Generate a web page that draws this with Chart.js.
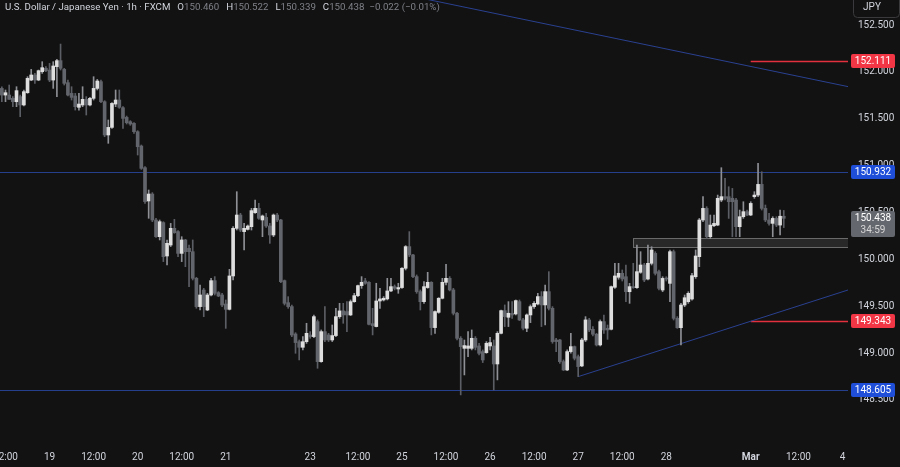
<!DOCTYPE html>
<html><head><meta charset="utf-8">
<script src="https://cdn.jsdelivr.net/npm/chart.js@4.4.1/dist/chart.umd.min.js"></script>
<style>html,body{margin:0;padding:0;background:#121212;overflow:hidden}canvas{display:block}</style>
</head><body><canvas id="c" width="900" height="467"></canvas>
<script>
// Hourly sessions shown (date, first hour, last hour) - weekend gaps skipped
const sessions = [
  ['2025-02-18', 11, 23], ['2025-02-19', 0, 23], ['2025-02-20', 0, 23], ['2025-02-21', 0, 21],
  ['2025-02-23', 22, 23], ['2025-02-24', 0, 23], ['2025-02-25', 0, 23], ['2025-02-26', 0, 23],
  ['2025-02-27', 0, 23], ['2025-02-28', 0, 21], ['2025-03-02', 22, 23], ['2025-03-03', 0, 23],
  ['2025-03-04', 0, 1]
];
const opens = [
151.824,151.753,151.753,151.718,151.682,151.736,151.647,151.778,151.913,151.967,
151.913,152.002,152.038,152.020,151.913,152.056,152.120,152.027,151.885,151.771,
151.743,151.622,151.647,151.707,151.647,151.718,151.824,151.896,151.682,151.327,
151.408,151.657,151.700,151.618,151.515,151.469,151.451,151.362,151.209,150.978,
150.623,150.697,150.420,150.242,150.392,150.036,150.153,150.331,150.296,150.064,
150.207,150.118,150.082,149.798,149.496,149.673,149.460,149.620,149.773,149.645,
149.620,149.524,149.467,149.823,150.331,150.473,150.296,150.320,150.349,150.498,
150.544,150.420,150.448,150.356,150.260,150.473,150.420,149.773,149.538,149.496,
149.204,149.122,149.062,149.122,149.193,149.176,149.336,148.909,149.229,149.194,
149.140,149.187,149.389,149.450,149.443,149.407,149.549,149.613,149.720,149.770,
149.755,149.314,149.283,149.556,149.567,149.578,149.663,149.709,149.684,149.699,
149.905,150.136,150.047,149.816,149.656,149.549,149.699,149.755,149.272,149.435,
149.585,149.755,149.798,149.674,149.425,149.158,149.051,149.051,149.051,149.158,
149.076,149.016,149.005,149.076,149.076,148.884,149.211,149.453,149.382,149.425,
149.418,149.549,149.354,149.265,149.407,149.496,149.524,149.603,149.514,149.656,
149.478,149.140,149.140,148.909,148.820,149.016,149.069,148.962,148.863,149.140,
149.354,149.254,149.201,149.087,149.336,149.265,149.254,149.702,149.809,149.851,
149.815,149.655,149.709,149.698,149.862,149.940,149.790,149.958,150.064,149.869,
149.673,149.797,149.744,150.082,149.371,149.271,149.513,149.549,149.577,149.815,
150.029,150.420,150.544,150.242,150.359,150.366,150.633,150.669,150.669,150.651,
150.633,150.349,150.455,150.509,150.473,150.669,150.686,150.800,150.544,150.420,
150.384,150.437,150.366,150.460];
const highs = [
151.842,151.807,151.860,151.736,151.842,151.753,151.807,151.949,152.027,151.984,
152.020,152.109,152.056,152.091,152.109,152.134,152.297,152.038,151.913,151.842,
151.771,151.771,151.842,151.736,151.728,151.949,151.920,151.913,151.693,151.487,
151.672,151.807,151.807,151.629,151.529,151.480,151.458,151.373,151.220,150.989,
150.740,150.712,150.438,150.420,150.402,150.207,150.384,150.427,150.306,150.242,
150.214,150.153,150.207,149.808,149.727,149.691,149.638,149.798,149.816,149.656,
149.638,149.567,149.894,150.349,150.722,150.491,150.384,150.367,150.544,150.633,
150.598,150.473,150.491,150.384,150.484,150.491,150.427,149.780,149.602,149.513,
149.218,149.140,149.176,149.318,149.229,149.407,149.354,149.247,149.496,149.211,
149.300,149.478,149.531,149.531,149.549,149.567,149.638,149.727,149.816,149.798,
149.762,149.478,149.745,149.691,149.603,149.798,149.798,149.727,149.745,149.912,
150.147,150.296,150.054,149.834,149.674,149.762,149.862,149.762,149.450,149.592,
149.798,149.947,149.816,149.691,149.435,149.176,149.140,149.229,149.247,149.176,
149.105,149.034,149.123,149.169,149.140,149.229,149.460,149.514,149.549,149.549,
149.567,149.567,149.371,149.418,149.514,149.549,149.638,149.656,149.727,149.869,
149.496,149.158,149.147,148.927,149.034,149.211,149.076,148.980,149.158,149.389,
149.371,149.283,149.211,149.354,149.407,149.300,149.716,149.958,149.958,149.887,
149.940,149.744,149.958,150.153,150.082,149.958,150.153,150.135,150.082,149.886,
149.815,149.815,150.100,150.100,149.389,149.531,149.620,149.655,149.851,150.100,
150.437,150.669,150.562,150.473,150.473,150.686,150.978,150.864,150.775,150.757,
150.651,150.526,150.615,150.526,150.615,150.722,151.024,150.935,150.580,150.491,
150.455,150.455,150.526,150.522];
const lows = [
151.682,151.682,151.707,151.629,151.629,151.522,151.636,151.771,151.906,151.878,
151.906,151.984,152.002,151.896,151.824,151.736,152.020,151.860,151.743,151.700,
151.593,151.593,151.629,151.540,151.636,151.700,151.807,151.672,151.309,151.238,
151.398,151.629,151.611,151.398,151.444,151.430,151.344,151.113,150.960,150.598,
150.438,150.402,150.235,150.207,149.976,149.940,150.136,150.278,150.029,149.976,
149.922,149.709,149.780,149.478,149.460,149.389,149.453,149.609,149.620,149.602,
149.496,149.264,149.460,149.780,150.313,150.296,150.100,150.313,150.313,150.491,
150.427,150.242,150.342,150.171,150.242,150.402,149.752,149.513,149.478,149.176,
148.998,148.927,149.033,149.104,149.158,149.165,148.838,148.902,149.123,149.123,
149.123,149.176,149.371,149.318,149.229,149.400,149.542,149.603,149.691,149.734,
149.300,149.194,149.279,149.478,149.556,149.567,149.656,149.674,149.638,149.691,
149.887,150.029,149.805,149.638,149.460,149.531,149.691,149.194,149.211,149.425,
149.578,149.727,149.663,149.407,149.140,148.554,148.767,148.962,149.034,149.034,
148.980,148.899,148.998,149.034,148.607,148.714,149.204,149.283,149.283,149.371,
149.407,149.347,149.247,149.229,149.325,149.478,149.514,149.283,149.300,149.460,
149.105,149.016,148.891,148.813,148.813,148.998,148.927,148.749,148.856,149.123,
149.229,149.183,149.076,149.076,149.211,149.147,149.247,149.691,149.788,149.769,
149.549,149.531,149.691,149.691,149.851,149.762,149.780,149.940,149.833,149.673,
149.655,149.769,149.549,149.353,149.264,149.086,149.495,149.531,149.566,149.797,
149.922,150.402,150.224,150.224,150.349,150.359,150.615,150.633,150.437,150.242,
150.242,150.242,150.437,150.466,150.466,150.651,150.669,150.526,150.402,150.366,
150.242,150.349,150.260,150.339];
const closes = [
151.753,151.778,151.707,151.682,151.800,151.647,151.789,151.931,151.967,151.913,
152.013,152.045,152.013,151.913,152.063,152.120,152.038,151.878,151.753,151.728,
151.629,151.657,151.707,151.647,151.718,151.824,151.903,151.682,151.327,151.408,
151.664,151.700,151.622,151.504,151.458,151.444,151.362,151.202,150.971,150.616,
150.697,150.420,150.242,150.402,150.029,150.171,150.331,150.285,150.064,150.207,
150.082,150.082,149.798,149.496,149.620,149.496,149.620,149.773,149.638,149.609,
149.513,149.467,149.823,150.331,150.473,150.313,150.331,150.356,150.520,150.544,
150.438,150.463,150.356,150.260,150.473,150.420,149.762,149.531,149.496,149.193,
149.112,149.062,149.122,149.211,149.176,149.389,148.909,149.229,149.140,149.140,
149.187,149.389,149.450,149.407,149.407,149.549,149.613,149.720,149.755,149.745,
149.307,149.293,149.556,149.578,149.585,149.663,149.709,149.691,149.699,149.905,
150.136,150.047,149.816,149.656,149.549,149.709,149.755,149.272,149.443,149.585,
149.755,149.798,149.674,149.425,149.158,149.069,149.080,149.076,149.158,149.062,
148.998,148.927,149.105,149.112,148.884,149.211,149.453,149.389,149.425,149.407,
149.560,149.354,149.265,149.407,149.496,149.531,149.603,149.514,149.656,149.478,
149.123,149.123,148.909,148.820,149.016,149.069,148.945,148.856,149.140,149.354,
149.247,149.201,149.087,149.336,149.247,149.247,149.709,149.823,149.851,149.791,
149.655,149.709,149.698,149.869,149.940,149.780,149.958,150.100,149.851,149.691,
149.797,149.790,150.082,149.371,149.271,149.513,149.591,149.638,149.826,150.036,
150.420,150.544,150.242,150.366,150.384,150.651,150.669,150.651,150.615,150.615,
150.349,150.455,150.509,150.473,150.597,150.686,150.800,150.544,150.420,150.384,
150.437,150.366,150.460,150.438];

const yTickValues = [148.5, 149.0, 149.5, 150.0, 150.5, 151.0, 151.5, 152.0, 152.5];
const xTickLabels = {
  '2025-02-18 12:00': '12:00', '2025-02-19 00:00': '19', '2025-02-19 12:00': '12:00',
  '2025-02-20 00:00': '20', '2025-02-20 12:00': '12:00', '2025-02-21 00:00': '21',
  '2025-02-23 23:00': '23', '2025-02-24 12:00': '12:00', '2025-02-25 00:00': '25',
  '2025-02-25 12:00': '12:00', '2025-02-26 00:00': '26', '2025-02-26 12:00': '12:00',
  '2025-02-27 00:00': '27', '2025-02-27 12:00': '12:00', '2025-02-28 00:00': '28',
  '2025-03-02 23:00': 'Mar', '2025-03-03 12:00': '12:00', '2025-03-04 00:00': '4'
};
const blueLevels = [150.932, 148.605];
const redLevels = [152.111, 149.343];
const redLevelFrom = '2025-03-02 23:00';
const zone = { from: '2025-02-27 15:00', top: 150.233, bottom: 150.132 };
const trendDown = [['2025-02-25 11:00', 152.740], ['2025-03-04 01:00', 151.847]];
const trendUp = [['2025-02-27 00:00', 148.749], ['2025-03-04 01:00', 149.667]];
const countdown = '34:59';
const title = 'U.S. Dollar / Japanese Yen · 1h · FXCM';
const currency = 'JPY';

const categories = [];
sessions.forEach(([d, h0, h1]) => { for (let h = h0; h <= h1; h++) categories.push(d + ' ' + String(h).padStart(2, '0') + ':00'); });

const UP = '#dedede', DN = '#63656c', WUP = '#8e9096', WDN = '#5c5e65';
const TXT = '#d1d4dc', FONT = "Roboto, 'Liberation Sans', sans-serif";
const isUp = opens.map((o, i) => closes[i] >= o);
const wickData = highs.map((h, i) => [lows[i], h]);
const bodyData = opens.map((o, i) => [o, closes[i]]);

const bgPlugin = {
  id: 'bg',
  beforeDraw(chart) {
    const c = chart.ctx; c.save(); c.fillStyle = '#121212'; c.fillRect(0, 0, chart.width, chart.height); c.restore();
  }
};

function idx(label) { return categories.indexOf(label); }

const drawingsPlugin = {
  id: 'drawings',
  beforeDatasetsDraw(chart) {
    const { ctx, chartArea: a, scales: { x, y } } = chart;
    ctx.save();
    ctx.beginPath(); ctx.rect(a.left, a.top, a.right - a.left, a.bottom - a.top); ctx.clip();
    // zone
    const zx = x.getPixelForValue(idx(zone.from));
    const zt = Math.round(y.getPixelForValue(zone.top)) + 0.5;
    const zb = Math.round(y.getPixelForValue(zone.bottom)) + 0.5;
    ctx.fillStyle = 'rgba(120,120,120,0.22)';
    ctx.fillRect(zx, zt, a.right - zx, zb - zt);
    ctx.strokeStyle = 'rgba(140,140,140,0.7)'; ctx.lineWidth = 1;
    ctx.strokeRect(Math.round(zx) + 0.5, zt, a.right - zx + 2, zb - zt);
    // blue levels
    ctx.strokeStyle = '#263f8c'; ctx.lineWidth = 1;
    blueLevels.forEach(v => {
      const py = Math.round(y.getPixelForValue(v)) + 0.5;
      ctx.beginPath(); ctx.moveTo(a.left, py); ctx.lineTo(a.right, py); ctx.stroke();
    });
    // red levels
    ctx.strokeStyle = '#e3303f'; ctx.lineWidth = 1.3;
    const rx = x.getPixelForValue(idx(redLevelFrom));
    redLevels.forEach(v => {
      const py = Math.round(y.getPixelForValue(v)) + 0.5;
      ctx.beginPath(); ctx.moveTo(rx, py); ctx.lineTo(a.right, py); ctx.stroke();
    });
    // trend lines
    ctx.strokeStyle = '#2a4190'; ctx.lineWidth = 1;
    const seg = (pts, extendLeft) => {
      const x1 = x.getPixelForValue(idx(pts[0][0])), y1 = y.getPixelForValue(pts[0][1]);
      const x2 = x.getPixelForValue(idx(pts[1][0])), y2 = y.getPixelForValue(pts[1][1]);
      const k = (y2 - y1) / (x2 - x1);
      const sx = extendLeft ? a.left : x1;
      const ex = a.right;
      ctx.beginPath(); ctx.moveTo(sx, y1 + k * (sx - x1)); ctx.lineTo(ex, y1 + k * (ex - x1)); ctx.stroke();
    };
    seg(trendDown, true);
    seg(trendUp, false);
    ctx.restore();
  },
  afterDraw(chart) {
    const { ctx, scales: { y } } = chart;
    ctx.save();
    ctx.textBaseline = 'middle';
    // header
    const last = opens.length - 1;
    const chg = closes[last] - closes[last - 1];
    const pct = chg / closes[last - 1] * 100;
    const fmt = v => (v < 0 ? '\u2212' : '') + Math.abs(v).toFixed(3);
    const valCol = closes[last] >= opens[last] ? '#b8b8b8' : '#7f8188';
    const segs = [
      [title, TXT, 7], ['O', TXT, 0], [opens[last].toFixed(3), valCol, 7],
      ['H', TXT, 0], [highs[last].toFixed(3), valCol, 7],
      ['L', TXT, 0], [lows[last].toFixed(3), valCol, 7],
      ['C', TXT, 0], [closes[last].toFixed(3), valCol, 5],
      [fmt(chg) + ' (' + (pct < 0 ? '\u2212' : '') + Math.abs(pct).toFixed(2) + '%)', valCol, 0]
    ];
    ctx.font = '9.7px ' + FONT;
    let hx = 5;
    segs.forEach(([t, col, gap]) => { ctx.fillStyle = col; ctx.textAlign = 'left'; ctx.fillText(t, hx, 7.5); hx += ctx.measureText(t).width + gap; });
    // currency box
    ctx.font = '10px ' + FONT;
    ctx.strokeStyle = '#3a3a3c'; ctx.lineWidth = 1;
    ctx.beginPath(); ctx.roundRect(853.5, -4, 46, 21.5, 4); ctx.stroke();
    ctx.fillStyle = TXT; ctx.textAlign = 'center'; ctx.fillText(currency, 872, 7.5);
    // price tags
    const tag = (v, bg, lines) => {
      const py = y.getPixelForValue(v);
      const h = lines.length > 1 ? 26 : 14;
      ctx.fillStyle = bg;
      ctx.beginPath(); ctx.roundRect(851, Math.round(py - 7), 44, h, 2); ctx.fill();
      ctx.textAlign = 'center';
      lines.forEach((ln, i) => { ctx.fillStyle = ln[1]; ctx.fillText(ln[0], 873, py + 0.5 + i * 12); });
    };
    tag(redLevels[0], '#f23645', [[redLevels[0].toFixed(3), '#ffffff']]);
    tag(blueLevels[0], '#1f4fd8', [[blueLevels[0].toFixed(3), '#ffffff']]);
    tag(closes[last], '#65676e', [[closes[last].toFixed(3), '#ffffff'], [countdown, '#d6d6d6']]);
    tag(redLevels[1], '#f23645', [[redLevels[1].toFixed(3), '#ffffff']]);
    tag(blueLevels[1], '#1f4fd8', [[blueLevels[1].toFixed(3), '#ffffff']]);
    ctx.restore();
  }
};

new Chart(document.getElementById('c'), {
  type: 'bar',
  data: {
    labels: categories,
    datasets: [
      { data: wickData, backgroundColor: isUp.map(u => u ? WUP : WDN), barThickness: 1, grouped: false, order: 2, borderWidth: 0 },
      { data: bodyData, backgroundColor: isUp.map(u => u ? UP : DN), barThickness: 3, grouped: false, order: 1, borderWidth: 0, minBarLength: 1 }
    ]
  },
  options: {
    responsive: false, animation: false, devicePixelRatio: 1,
    layout: { padding: 0 },
    plugins: { legend: { display: false }, tooltip: { enabled: false } },
    scales: {
      x: {
        type: 'category', offset: true,
        grid: { display: false, drawTicks: false }, border: { display: false },
        ticks: {
          autoSkip: false, maxRotation: 0, minRotation: 0, padding: 11, color: TXT,
          font: (ctx) => ({ family: FONT, size: 10, weight: (ctx.tick && xTickLabels[categories[ctx.tick.value]] === 'Mar') ? 'bold' : 'normal' }),
          callback: (v) => xTickLabels[categories[v]] || ''
        },
        afterBuildTicks: (s) => { s.ticks = categories.map((c, i) => xTickLabels[c] ? { value: i } : null).filter(Boolean); },
        afterFit: (s) => { s.height = 27; s.paddingLeft = 0; s.paddingRight = 0; }
      },
      y: {
        type: 'linear', position: 'right', min: 148.073, max: 152.767,
        grid: { display: false, drawTicks: false }, border: { display: false },
        ticks: { padding: 10, color: TXT, font: { family: FONT, size: 10 }, callback: (v) => Number(v).toFixed(3) },
        afterBuildTicks: (s) => { s.ticks = yTickValues.map(v => ({ value: v })); },
        afterFit: (s) => { s.width = 52; s.paddingTop = 0; s.paddingBottom = 0; }
      }
    }
  },
  plugins: [bgPlugin, drawingsPlugin]
});
</script>
</body></html>
